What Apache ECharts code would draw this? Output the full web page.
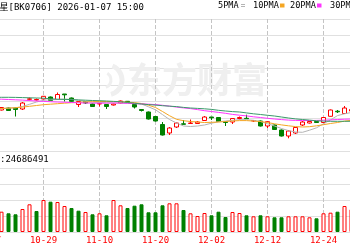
<!DOCTYPE html>
<html><head><meta charset="utf-8">
<script src="https://cdn.jsdelivr.net/npm/echarts@6/dist/echarts.min.js"></script>
<style>html,body{margin:0;padding:0;background:#fff}#c{width:350px;height:250px}</style>
</head><body><div id="c"></div>
<script>
const categories = ['10-17','10-20','10-21','10-22','10-23','10-24','10-27','10-28','10-29','10-30','10-31',
'11-03','11-04','11-05','11-06','11-07','11-10','11-11','11-12','11-13','11-14','11-17','11-18','11-19','11-20','11-21',
'11-24','11-25','11-26','11-27','11-28','12-01','12-02','12-03','12-04','12-05','12-08','12-09','12-10','12-11','12-12',
'12-15','12-16','12-17','12-18','12-19','12-22','12-23','12-24','12-25','12-26','12-29','12-30','12-31'];
const tickDates = ['10-29','11-10','11-20','12-02','12-12','12-24'];

const opens = ['-','-',1072,1076,1076,1074,1093.4,1092,1094,1098,1093,1104,
1096,1083,1089,1084,1084,1083,1082,1086,1089.4,1083,
1073,1068,1059,1043,1026,1038,1044.4,1045,1045,1051,
1058,1057,1048.6,1048,1055,1055.4,1050,1050,1040,1042,
1032,1020,1026,1042,1046,1049,1047,1059.4,1069.6,1065,1070,'-'];
const closes = ['-','-',1077,1071,1073,1086,1094.4,1093,1099.4,1091,1103,1102.4,
1089.4,1089,1086,1079,1085,1079,1084,1090,1088.4,1078,
1071,1054,1050,1022,1036,1046,1043.4,1046,1048,1058,
1056.4,1049,1047,1055,1057,1054.4,1051,1040,1048.6,1033,
1020,1030,1037,1048,1049,1047,1057,1072,1068.4,1076,1073,'-'];
const lows = ['-','-',1071,1070,1059,1072,1091,1091,1093,1090,1092,1089,
1088.6,1078,1084,1078,1079,1074,1081,1085,1086.4,1075,
1069,1053,1049,1021,1022,1036,1043,1044.6,1044,1050,
1052,1048,1040,1044,1053,1054,1048,1039,1036,1032,
1019,1015.4,1024,1040,1045,1046,1046,1059,1066,1064,1069,'-'];
const highs = ['-','-',1078,1077,1077,1088,1097,1095,1100,1099,1107,1104,
1097,1090,1089.4,1085,1087,1084,1085,1091,1090,1084,
1074,1069,1060,1048,1038,1047,1052,1053,1050,1060,
1058,1058,1049,1056,1059,1062.6,1052,1051,1049.4,1043,
1033,1032,1038,1050,1050,1050,1058,1073,1072,1080,1075,'-'];

const ma5 = ['-',1074,1075,1075.6,1076.4,1079,1083.4,1088,1091.4,1092.4,1093,1093.8,1093.2,1091.4,1089.4,1087.8,1087,1086.4,1086,1085.8,1085.4,1084.8,1084,1078.4,1072.4,1062.8,1053,1046,1040,1039,1040,1042,1045.6,1048.4,1050,1051.4,1052.6,1052.6,1051.4,1049,1044.6,1040,1035,1030.8,1028,1027.4,1031.6,1036.4,1044.4,1052.2,1060.8,1064.4,1067,'-'];
const ma10 = ['-',1074.2,1075,1075.8,1076.6,1077.8,1079.4,1081,1082.6,1083.6,1084.6,1085.6,1086.6,1087.4,1088,1088.6,1089,1089,1088.8,1088.6,1087.6,1086.8,1085,1081.6,1077,1069,1060.6,1053.4,1050.6,1049,1048,1047,1047.4,1048,1049,1050,1050.8,1050.8,1049.8,1049,1047,1044.4,1042.2,1040.4,1038.8,1038,1038.6,1040.4,1042.6,1045,1047,1049.8,1051.4,'-'];
const ma20 = ['-',1094,1093.6,1093,1092.4,1091.8,1090.8,1090,1089.2,1088.6,1088,1087.6,1087,1086.4,1086,1085.8,1085.6,1085.8,1086,1086,1085.4,1084.8,1084.2,1083.6,1082.8,1081.4,1079.8,1077.8,1076.2,1074.8,1072.8,1070.6,1069,1067.2,1065.4,1063.2,1061.6,1060.2,1058.4,1057,1055.4,1054,1052.8,1051.8,1051.2,1051,1051,1051.2,1051.6,1052.2,1053,1053.6,1054,'-'];
const ma30 = ['-',1097.4,1097.4,1097.4,1097.2,1096.8,1096.4,1096,1095.6,1094.4,1093.6,1093.2,1092.8,1092.2,1091.6,1091,1090.6,1090,1089.2,1088.6,1087,1085.6,1084,1082.8,1081.8,1080.6,1079.6,1078.8,1077.2,1076,1075.2,1074.4,1073.2,1071.4,1070,1068.8,1068,1066.2,1064.4,1063,1061.4,1060,1058,1056,1054.2,1053,1051.8,1050.4,1049.8,1049.4,1049.4,1049.4,1049.4,'-'];

const volumes = ['-','-',20.3,18.7,17.7,23,27.7,21,32,30.3,30,26,
24,21.3,20,17.7,18.7,16.7,32,26.7,24,26.3,
27.7,19.7,19.7,26.7,28.7,28.7,22,18.7,16,19,
16.7,20.3,15,20,19,16.7,15.7,16.7,15.7,14.7,
14.7,15.7,15.7,15.7,14.7,13.7,18.7,19.3,20.3,26,22.7,'-'];
const volUp = [0,0,1,0,0,1,1,0,1,0,1,1,
0,0,1,0,1,0,1,1,0,0,
0,0,0,0,1,1,0,1,1,1,
0,0,0,1,1,0,1,0,1,0,
0,1,1,1,1,0,1,1,0,1,1,0];

const titleText = '星[BK0706] 2026-01-07 15:00';
const volText = ':24686491';
const legendNames = ['5PMA','10PMA','20PMA','30PMA'];
const maColors = ['#b4b4b4','#f5a623','#ff33ff','#3a9a6a'];

const RED = '#ff0000', GREEN = '#008000';
const mono = "'DejaVu Sans Mono', 'Noto Sans CJK SC', monospace";

const candleData = categories.map((c, j) => opens[j] === '-' ? '-' : [opens[j], closes[j], lows[j], highs[j]]);
const volData = categories.map((c, j) => volumes[j] === '-' ? '-' : {
  value: volumes[j],
  itemStyle: volUp[j] ? {color: '#ffffff', borderColor: RED, borderWidth: 1} : {color: GREEN, borderColor: GREEN, borderWidth: 1}
});

const chart = echarts.init(document.getElementById('c'), null, {renderer: 'canvas'});
const gridL = -12.5, gridR = -8.5;
const splitY = {show: true, lineStyle: {color: '#e0e0e0', width: 1}};

function vLineSeries(gi) {
  return {
    type: 'custom', xAxisIndex: gi, yAxisIndex: gi, silent: true, z: 1,
    data: tickDates.map(d => [d]),
    encode: {x: 0},
    clip: false,
    renderItem: function (params, api) {
      const x = Math.round(api.coord([api.value(0), 0])[0] - 0.5) + 0.5;
      const r = params.coordSys;
      return {type: 'line', shape: {x1: x, y1: r.y, x2: x, y2: r.y + r.height},
              style: {stroke: '#c4c4c4', lineWidth: 1, lineDash: [4, 2]}};
    }
  };
}

const legendGraphics = [];
const legendX = [218, 253, 290, 330];
const markX = [241, 280, 317, 358];
legendNames.forEach((n, k) => {
  legendGraphics.push({type: 'text', x: legendX[k], y: 6, z: 10,
    style: {text: n, font: '8.6px ' + mono, fill: '#000', textVerticalAlign: 'middle'}});
  if (k === 0) {
    legendGraphics.push({type: 'rect', shape: {x: markX[k], y: 4, width: 4, height: 1}, style: {fill: maColors[k]}, z: 10});
    legendGraphics.push({type: 'rect', shape: {x: markX[k], y: 6, width: 4, height: 1}, style: {fill: maColors[k]}, z: 10});
  } else {
    legendGraphics.push({type: 'rect', shape: {x: markX[k], y: 3.5, width: 4.5, height: 4}, style: {fill: maColors[k]}, z: 10});
  }
});

chart.setOption({
  animation: false,
  backgroundColor: '#ffffff',
  grid: [
    {left: gridL, right: gridR, top: 19, height: 132, containLabel: false, outerBoundsMode: 'none'},
    {left: gridL, right: gridR, top: 168, height: 64, containLabel: false, outerBoundsMode: 'none'}
  ],
  xAxis: [
    {type: 'category', gridIndex: 0, data: categories, boundaryGap: false,
     axisLine: {show: false}, axisTick: {show: false}, axisLabel: {show: false}, splitLine: {show: false}},
    {type: 'category', gridIndex: 1, data: categories, boundaryGap: false,
     axisLine: {show: false}, axisTick: {show: false},
     axisLabel: {show: true, interval: 7, color: RED, fontSize: 9, fontFamily: mono, margin: 4,
                 hideOverlap: false, showMinLabel: true},
     splitLine: {show: false}}
  ],
  yAxis: [
    {type: 'value', gridIndex: 0, min: 990, max: 1254, interval: 33, scale: false,
     axisLine: {show: false}, axisTick: {show: false}, axisLabel: {show: false}, splitLine: splitY},
    {type: 'value', gridIndex: 1, min: 0, max: 64, interval: 16,
     axisLine: {show: false}, axisTick: {show: false}, axisLabel: {show: false}, splitLine: splitY}
  ],
  graphic: [
    {type: 'text', x: 127, y: 80, z: 1, silent: true,
     style: {text: '东方财富', font: 'bold 35px "Noto Sans CJK SC"', fill: '#efefef', textVerticalAlign: 'middle'}},
    {type: 'arc', shape: {cx: 107, cy: 80, r: 15, startAngle: -1.2, endAngle: 1.3}, z: 1, silent: true,
     style: {stroke: '#efefef', lineWidth: 5, fill: null}},
    {type: 'arc', shape: {cx: 103, cy: 80, r: 8, startAngle: -1.0, endAngle: 1.2}, z: 1, silent: true,
     style: {stroke: '#efefef', lineWidth: 3, fill: null}},
    {type: 'text', x: -0.5, y: 7.5, z: 10,
     style: {text: titleText, font: '9px ' + mono, fill: '#000', textVerticalAlign: 'middle'}},
    {type: 'text', x: 0, y: 160, z: 10,
     style: {text: volText, font: '9px ' + mono, fill: '#000', textVerticalAlign: 'middle'}},
    ...legendGraphics
  ],
  series: [
    vLineSeries(0),
    vLineSeries(1),
    {type: 'candlestick', xAxisIndex: 0, yAxisIndex: 0, data: candleData, barWidth: 4, z: 2,
     itemStyle: {color: '#ffffff', color0: GREEN, borderColor: RED, borderColor0: GREEN, borderWidth: 1}},
    {type: 'line', name: legendNames[0], xAxisIndex: 0, yAxisIndex: 0, data: ma5, symbol: 'none',
     lineStyle: {color: maColors[0], width: 1}, z: 3},
    {type: 'line', name: legendNames[1], xAxisIndex: 0, yAxisIndex: 0, data: ma10, symbol: 'none',
     lineStyle: {color: maColors[1], width: 1}, z: 3},
    {type: 'line', name: legendNames[2], xAxisIndex: 0, yAxisIndex: 0, data: ma20, symbol: 'none',
     lineStyle: {color: maColors[2], width: 1}, z: 3},
    {type: 'line', name: legendNames[3], xAxisIndex: 0, yAxisIndex: 0, data: ma30, symbol: 'none',
     lineStyle: {color: maColors[3], width: 1}, z: 3},
    {type: 'bar', xAxisIndex: 1, yAxisIndex: 1, data: volData, barWidth: 4, z: 2}
  ]
});
</script>
</body></html>
